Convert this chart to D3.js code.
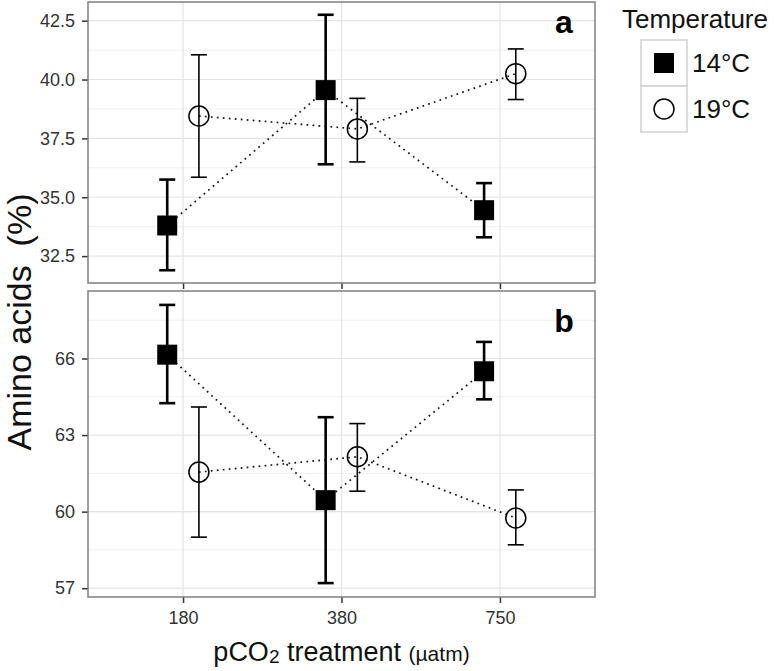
<!DOCTYPE html>
<html>
<head>
<meta charset="utf-8">
<script src="https://cdn.jsdelivr.net/npm/d3@7/dist/d3.min.js"></script>
<style>
  html, body { margin: 0; padding: 0; background: #fff; }
  svg { display: block; font-family: "Liberation Sans", Arial, Helvetica, sans-serif; }
</style>
</head>
<body>
<svg id="chart" width="776" height="671"></svg>
<script>
// ---------------- data ----------------
const categories = ["180", "380", "750"];
const temperatures = ["14°C", "19°C"];

// panel a
const aMean14 = [33.8, 39.55, 34.45];
const aLow14  = [31.9, 36.4, 33.3];
const aHigh14 = [35.75, 42.75, 35.6];
const aMean19 = [38.45, 37.9, 40.25];
const aLow19  = [35.85, 36.5, 39.15];
const aHigh19 = [41.05, 39.2, 41.3];

// panel b
const bMean14 = [66.15, 60.45, 65.5];
const bLow14  = [64.25, 57.2, 64.4];
const bHigh14 = [68.1, 63.7, 66.65];
const bMean19 = [61.55, 62.15, 59.75];
const bLow19  = [59.0, 60.8, 58.7];
const bHigh19 = [64.1, 63.45, 60.85];

const yTicksA = [32.5, 35, 37.5, 40, 42.5];
const yTicksB = [57, 60, 63, 66];
const panelLabels = ["a", "b"];

// ---------------- layout ----------------
const svg = d3.select("#chart");
const left = 88, right = 595;
const panels = [
  { top: 2, bottom: 283, label: panelLabels[0], ticks: yTicksA, fmt: d3.format(".1f"),
    series: [
      { temp: temperatures[0], mean: aMean14, lo: aLow14, hi: aHigh14 },
      { temp: temperatures[1], mean: aMean19, lo: aLow19, hi: aHigh19 } ] },
  { top: 291, bottom: 597, label: panelLabels[1], ticks: yTicksB, fmt: d3.format("d"),
    series: [
      { temp: temperatures[0], mean: bMean14, lo: bLow14, hi: bHigh14 },
      { temp: temperatures[1], mean: bMean19, lo: bLow19, hi: bHigh19 } ] }
];

const x = d3.scalePoint().domain(categories).range([left, right]).padding(0.6);
const step = x.step();
const dodge = { "14°C": -0.1 * step, "19°C": 0.1 * step };
const style = {
  "14°C": { ebWidth: 2.6 },
  "19°C": { ebWidth: 1.6 }
};
const capHalf = 8;
const sq = 20, rad = 10;

panels.forEach((p, pi) => {
  const all = p.series.flatMap(s => s.lo.concat(s.hi));
  const mn = d3.min(all), mx = d3.max(all), ext = (mx - mn) * 0.05;
  const y = d3.scaleLinear().domain([mn - ext, mx + ext]).range([p.bottom, p.top]);
  const g = svg.append("g");

  g.append("rect").attr("x", left).attr("y", p.top).attr("width", right - left)
    .attr("height", p.bottom - p.top).attr("fill", "#fff");

  // minor grid
  const minor = [];
  for (let i = 0; i < p.ticks.length - 1; i++) minor.push((p.ticks[i] + p.ticks[i + 1]) / 2);
  const tStep = p.ticks[1] - p.ticks[0];
  minor.push(p.ticks[0] - tStep / 2, p.ticks[p.ticks.length - 1] + tStep / 2);
  g.selectAll(".minor").data(minor.filter(v => y(v) > p.top && y(v) < p.bottom)).join("line")
    .attr("x1", left).attr("x2", right).attr("y1", d => y(d)).attr("y2", d => y(d))
    .attr("stroke", "#f0f0f0").attr("stroke-width", 1);
  // major grid
  g.selectAll(".majorY").data(p.ticks).join("line")
    .attr("x1", left).attr("x2", right).attr("y1", d => y(d)).attr("y2", d => y(d))
    .attr("stroke", "#e4e4e4").attr("stroke-width", 1.2);
  g.selectAll(".majorX").data(categories).join("line")
    .attr("x1", d => x(d)).attr("x2", d => x(d)).attr("y1", p.top).attr("y2", p.bottom)
    .attr("stroke", "#e4e4e4").attr("stroke-width", 1.2);

  // y axis
  const ya = g.append("g").attr("transform", `translate(${left},0)`)
    .call(d3.axisLeft(y).tickValues(p.ticks).tickFormat(p.fmt).tickSize(6).tickPadding(7));
  ya.select(".domain").remove();
  ya.selectAll(".tick line").attr("stroke", "#333").attr("stroke-width", 1.5);
  ya.selectAll(".tick text").attr("fill", "#333").style("font-size", "18px")
    .style("font-family", "'Liberation Sans', Arial, sans-serif");

  // x axis ticks
  const xa = g.append("g").attr("transform", `translate(0,${p.bottom})`)
    .call(d3.axisBottom(x).tickSize(6).tickPadding(8));
  xa.select(".domain").remove();
  xa.selectAll(".tick line").attr("stroke", "#333").attr("stroke-width", 1.5);
  xa.selectAll(".tick text").attr("fill", "#333").style("font-size", "18px")
    .style("font-family", "'Liberation Sans', Arial, sans-serif");
  if (pi === 0) xa.selectAll(".tick text").remove();

  // dotted lines
  p.series.forEach(s => {
    const line = d3.line().x((d, i) => x(categories[i]) + dodge[s.temp]).y(d => y(d));
    g.append("path").datum(s.mean).attr("d", line).attr("fill", "none")
      .attr("stroke", "#111").attr("stroke-width", 1.7).attr("stroke-dasharray", "1.7,4.3");
  });

  // error bars
  p.series.forEach(s => {
    const w = style[s.temp].ebWidth;
    categories.forEach((c, i) => {
      const cx = x(c) + dodge[s.temp];
      const eb = g.append("g").attr("stroke", "#000").attr("stroke-width", w);
      eb.append("line").attr("x1", cx).attr("x2", cx).attr("y1", y(s.lo[i])).attr("y2", y(s.hi[i]));
      eb.append("line").attr("x1", cx - capHalf).attr("x2", cx + capHalf).attr("y1", y(s.lo[i])).attr("y2", y(s.lo[i]));
      eb.append("line").attr("x1", cx - capHalf).attr("x2", cx + capHalf).attr("y1", y(s.hi[i])).attr("y2", y(s.hi[i]));
    });
  });

  // points
  p.series.forEach(s => {
    categories.forEach((c, i) => {
      const cx = x(c) + dodge[s.temp], cy = y(s.mean[i]);
      if (s.temp === temperatures[0]) {
        g.append("rect").attr("x", cx - sq / 2).attr("y", cy - sq / 2).attr("width", sq).attr("height", sq).attr("fill", "#000");
      } else {
        g.append("circle").attr("cx", cx).attr("cy", cy).attr("r", rad).attr("fill", "none")
          .attr("stroke", "#000").attr("stroke-width", 1.5);
      }
    });
  });

  // border
  g.append("rect").attr("x", left).attr("y", p.top).attr("width", right - left)
    .attr("height", p.bottom - p.top).attr("fill", "none").attr("stroke", "#7f7f7f").attr("stroke-width", 1.5);

  // panel label
  g.append("text").attr("x", right - 31).attr("y", p.top + (pi === 0 ? 31 : 41))
    .attr("text-anchor", "middle").style("font-size", "32px").style("font-weight", "bold")
    .attr("fill", "#000").text(p.label);
});

// axis titles
svg.append("text").attr("transform", `translate(31,322) rotate(-90)`)
  .attr("text-anchor", "middle").style("font-size", "34px").attr("fill", "#111")
  .text("Amino acids\u00a0\u00a0(%)");

const xt = svg.append("text").attr("x", (left + right) / 2).attr("y", 661)
  .attr("text-anchor", "middle").attr("fill", "#111").style("font-size", "27px");
xt.append("tspan").text("pCO");
xt.append("tspan").style("font-size", "19px").attr("dy", 2).text("2");
xt.append("tspan").attr("dy", -2).text(" treatment ");
xt.append("tspan").style("font-size", "21px").text("(µatm)");

// legend
const lg = svg.append("g");
lg.append("text").attr("x", 622).attr("y", 28).style("font-size", "26px").attr("fill", "#111").text("Temperature");
temperatures.forEach((t, i) => {
  const ky = 40 + i * 46;
  lg.append("rect").attr("x", 641).attr("y", ky).attr("width", 46).attr("height", 46)
    .attr("fill", "#fff").attr("stroke", "#d0d0d0").attr("stroke-width", 1.5);
  const cx = 664, cy = ky + 23;
  if (i === 0) {
    lg.append("rect").attr("x", cx - 10).attr("y", cy - 10).attr("width", 20).attr("height", 20).attr("fill", "#000");
  } else {
    lg.append("circle").attr("cx", cx).attr("cy", cy).attr("r", 10).attr("fill", "none").attr("stroke", "#000").attr("stroke-width", 1.5);
  }
  lg.append("text").attr("x", 692).attr("y", cy + 9).style("font-size", "26px").attr("fill", "#111").text(t);
});
</script>
</body>
</html>
